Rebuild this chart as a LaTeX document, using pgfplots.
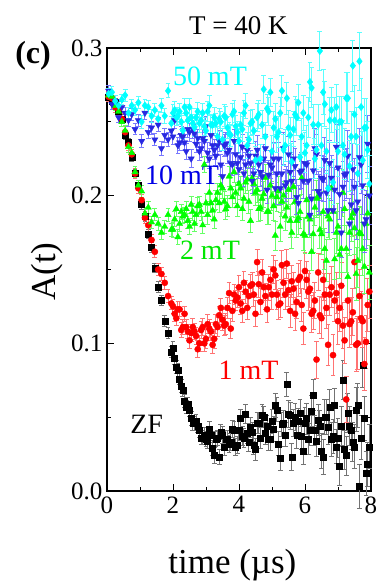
\documentclass[border=0pt]{standalone}
\usepackage{pgfplots}
\pgfplotsset{compat=1.18}
\usepackage{pgfplotstable}
\usepackage{fontspec}
\setmainfont{Liberation Serif}

\definecolor{cblue}{RGB}{40,40,225}
\definecolor{cbluebar}{RGB}{120,120,255}
\definecolor{cgreen}{RGB}{0,255,0}
\definecolor{cgreentext}{RGB}{0,230,0}
\definecolor{ccyan}{RGB}{0,255,255}

\pgfplotsset{
  ebar/.style={error bars/.cd, y dir=both, y explicit,
    error bar style={line width=1pt, #1},
    error mark options={rotate=90, mark size=2.4pt, line width=1pt, #1}},
  zfs/.style={only marks, mark=square*, mark size=3pt, color=black, ebar=black!55},
  r1s/.style={only marks, mark=*, mark size=3.1pt, color=red, ebar=red!55},
  g2s/.style={only marks, mark=triangle*, mark size=3.6pt, color=cgreen, ebar=cgreen!60},
  b10s/.style={only marks, mark=triangle*, mark options={rotate=180}, mark size=3.6pt, color=cblue, ebar=cbluebar},
  c50s/.style={only marks, mark=diamond*, mark size=3.7pt, color=ccyan, ebar=ccyan!65},
}

\pgfplotstableread{
t zf ezf r1 er1 g2 eg2 b10 eb10 c50 ec50
0.05 0.267 .0028 0.267 .0034 0.268 .0034 0.271 .0036 0.269 .0036
0.15 0.264 .0028 0.266 .0034 0.267 .0034 0.262 .0036 0.270 .0036
0.25 0.263 .0028 0.260 .0034 0.261 .0034 0.264 .0036 0.264 .0036
0.35 0.257 .0028 0.258 .0034 0.257 .0034 0.253 .0036 0.261 .0036
0.45 0.252 .0028 0.252 .0034 0.250 .0034 0.260 .0036 0.265 .0036
0.55 0.241 .0030 0.243 .0036 0.244 .0036 0.256 .0039 0.268 .0039
0.65 0.236 .0030 0.234 .0036 0.233 .0036 0.251 .0039 0.256 .0039
0.75 0.226 .0030 0.228 .0036 0.229 .0036 0.255 .0039 0.261 .0039
0.85 0.215 .0030 0.215 .0036 0.216 .0036 0.245 .0039 0.258 .0039
0.95 0.207 .0030 0.205 .0036 0.207 .0036 0.251 .0039 0.263 .0039
1.05 0.194 .0033 0.197 .0040 0.203 .0040 0.237 .0043 0.250 .0043
1.15 0.186 .0033 0.185 .0040 0.188 .0040 0.256 .0043 0.261 .0043
1.25 0.174 .0033 0.180 .0040 0.192 .0040 0.243 .0043 0.260 .0043
1.35 0.165 .0033 0.170 .0040 0.182 .0040 0.246 .0043 0.254 .0043
1.45 0.151 .0033 0.162 .0040 0.187 .0040 0.238 .0043 0.258 .0043
1.55 0.138 .0037 0.150 .0044 0.181 .0044 0.248 .0048 0.252 .0048
1.65 0.129 .0037 0.147 .0044 0.175 .0044 0.232 .0048 0.261 .0048
1.75 0.115 .0037 0.141 .0044 0.179 .0044 0.241 .0048 0.254 .0048
1.85 0.107 .0037 0.132 .0044 0.187 .0044 0.238 .0048 0.271 .0048
1.95 0.094 .0037 0.127 .0044 0.177 .0044 0.244 .0048 0.249 .0048
2.05 0.090 .0042 0.120 .0050 0.184 .0050 0.251 .0055 0.258 .0055
2.15 0.082 .0042 0.123 .0050 0.172 .0050 0.234 .0055 0.254 .0055
2.25 0.071 .0042 0.109 .0050 0.189 .0050 0.241 .0055 0.250 .0055
2.35 0.061 .0042 0.120 .0050 0.187 .0050 0.236 .0055 0.260 .0055
2.45 0.059 .0042 0.108 .0050 0.183 .0050 0.245 .0055 0.251 .0055
2.55 0.049 .0047 0.107 .0056 0.194 .0056 0.225 .0061 0.253 .0061
2.65 0.046 .0047 0.108 .0056 0.181 .0056 0.242 .0061 0.246 .0061
2.75 0.044 .0047 0.096 .0056 0.193 .0056 0.239 .0061 0.257 .0061
2.85 0.036 .0047 0.109 .0056 0.189 .0056 0.232 .0061 0.251 .0061
2.95 0.038 .0047 0.100 .0056 0.221 .0056 0.237 .0061 0.247 .0061
3.05 0.034 .0052 0.113 .0062 0.187 .0062 0.229 .0068 0.257 .0068
3.15 0.038 .0052 0.108 .0062 0.195 .0062 0.241 .0068 0.248 .0068
3.25 0.024 .0052 0.103 .0062 0.184 .0062 0.231 .0068 0.253 .0068
3.35 0.036 .0052 0.111 .0062 0.202 .0062 0.234 .0068 0.240 .0068
3.45 0.040 .0052 0.124 .0062 0.207 .0062 0.221 .0068 0.250 .0068
3.55 0.030 .0058 0.112 .0070 0.196 .0070 0.234 .0075 0.254 .0075
3.65 0.035 .0058 0.124 .0070 0.193 .0070 0.229 .0075 0.246 .0075
3.75 0.033 .0058 0.110 .0070 0.205 .0070 0.222 .0075 0.241 .0075
3.85 0.041 .0058 0.133 .0070 0.216 .0070 0.237 .0075 0.257 .0075
3.95 0.031 .0058 0.131 .0070 0.193 .0070 0.222 .0075 0.243 .0075
4.05 0.049 .0065 0.127 .0078 0.205 .0078 0.226 .0085 0.248 .0085
4.15 0.036 .0065 0.141 .0078 0.198 .0078 0.215 .0085 0.256 .0085
4.25 0.039 .0065 0.124 .0078 0.211 .0078 0.231 .0085 0.234 .0085
4.35 0.043 .0065 0.139 .0078 0.183 .0078 0.222 .0085 0.249 .0085
4.45 0.031 .0065 0.133 .0078 0.208 .0078 0.215 .0085 0.244 .0085
4.55 0.046 .0073 0.155 .0088 0.204 .0088 0.231 .0095 0.253 .0095
4.65 0.036 .0073 0.128 .0088 0.192 .0088 0.216 .0095 0.225 .0095
4.75 0.050 .0073 0.138 .0088 0.201 .0088 0.225 .0095 0.272 .0095
4.85 0.044 .0073 0.123 .0088 0.189 .0088 0.204 .0095 0.259 .0095
4.95 0.035 .0073 0.143 .0088 0.207 .0088 0.221 .0095 0.270 .0095
5.05 0.042 .0082 0.150 .0098 0.193 .0098 0.225 .0107 0.246 .0107
5.15 0.055 .0082 0.133 .0098 0.199 .0098 0.215 .0107 0.240 .0107
5.25 0.022 .0082 0.127 .0098 0.179 .0098 0.205 .0107 0.256 .0107
5.35 0.046 .0082 0.141 .0098 0.200 .0098 0.232 .0107 0.231 .0107
5.45 0.072 .0082 0.154 .0098 0.192 .0098 0.209 .0107 0.266 .0107
5.55 0.051 .0092 0.122 .0110 0.183 .0110 0.216 .0120 0.241 .0120
5.65 0.046 .0092 0.137 .0110 0.206 .0110 0.225 .0120 0.245 .0120
5.75 0.038 .0092 0.128 .0110 0.183 .0110 0.199 .0120 0.253 .0120
5.85 0.053 .0092 0.145 .0110 0.189 .0110 0.216 .0120 0.226 .0120
5.95 0.027 .0092 0.110 .0110 0.174 .0110 0.210 .0120 0.256 .0120
6.05 0.049 .0104 0.143 .0125 0.197 .0125 0.221 .0135 0.234 .0135
6.15 0.041 .0104 0.137 .0125 0.184 .0125 0.187 .0135 0.277 .0135
6.25 0.065 .0104 0.122 .0125 0.174 .0125 0.217 .0135 0.248 .0135
6.35 0.034 .0104 0.089 .0125 0.198 .0125 0.228 .0135 0.231 .0135
6.45 0.044 .0104 0.119 .0125 0.177 .0125 0.201 .0135 0.298 .0135
6.55 0.023 .0117 0.143 .0140 0.189 .0140 0.211 .0152 0.270 .0152
6.65 0.050 .0117 0.124 .0140 0.156 .0140 0.202 .0152 0.230 .0152
6.75 0.057 .0117 0.133 .0140 0.184 .0140 0.222 .0152 0.251 .0152
6.85 0.037 .0117 0.092 .0140 0.189 .0140 0.190 .0152 0.209 .0152
6.95 0.030 .0117 0.134 .0140 0.175 .0140 0.233 .0152 0.260 .0152
7.05 0.017 .0132 0.124 .0158 0.160 .0158 0.201 .0172 0.250 .0172
7.15 0.075 .0132 0.112 .0158 0.202 .0158 0.206 .0172 0.234 .0172
7.25 0.024 .0132 0.062 .0158 0.164 .0158 0.215 .0172 0.266 .0172
7.35 0.044 .0132 0.113 .0158 0.175 .0158 0.181 .0172 0.220 .0172
7.45 0.033 .0132 0.121 .0158 0.188 .0158 0.218 .0172 0.288 .0172
7.55 0.055 .0150 0.099 .0180 0.147 .0180 0.190 .0195 0.240 .0195
7.65 0.003 .0150 0.132 .0180 0.175 .0180 0.226 .0195 0.291 .0195
7.75 0.085 .0150 0.115 .0180 0.164 .0180 0.207 .0195 0.224 .0195
7.85 0.012 .0150 0.101 .0180 0.181 .0180 0.184 .0195 0.246 .0195
7.95 0.030 .0150 0.135 .0180 0.148 .0180 0.200 .0195 0.208 .0195
}\data

\pgfplotstableread{
t zf ezf r1 er1 g2 eg2 b10 eb10 c50 ec50
2.0 0.097 .0042 0.125 .0050 0.177 .0050 0.240 .0055 0.256 .0055
2.1 0.084 .0042 0.117 .0050 0.191 .0050 0.253 .0055 0.253 .0055
2.2 0.076 .0042 0.123 .0050 0.181 .0050 0.236 .0055 0.257 .0055
2.3 0.068 .0042 0.111 .0050 0.186 .0050 0.240 .0055 0.244 .0055
2.4 0.057 .0042 0.111 .0050 0.191 .0050 0.230 .0055 0.256 .0055
2.5 0.055 .0047 0.102 .0056 0.179 .0056 0.243 .0061 0.260 .0061
2.6 0.046 .0047 0.111 .0056 0.189 .0056 0.245 .0061 0.249 .0061
2.7 0.047 .0047 0.105 .0056 0.187 .0056 0.235 .0061 0.253 .0061
2.8 0.041 .0047 0.100 .0056 0.194 .0056 0.230 .0061 0.249 .0061
2.9 0.036 .0047 0.111 .0056 0.180 .0056 0.239 .0061 0.256 .0061
3.0 0.035 .0052 0.103 .0062 0.195 .0062 0.247 .0068 0.244 .0068
3.1 0.042 .0052 0.110 .0062 0.202 .0062 0.225 .0068 0.261 .0068
3.2 0.029 .0052 0.099 .0062 0.190 .0062 0.234 .0068 0.248 .0068
3.3 0.035 .0052 0.113 .0062 0.197 .0062 0.227 .0068 0.249 .0068
3.4 0.023 .0052 0.119 .0062 0.195 .0062 0.237 .0068 0.252 .0068
3.5 0.038 .0058 0.116 .0070 0.205 .0070 0.213 .0075 0.238 .0075
3.6 0.035 .0058 0.113 .0070 0.191 .0070 0.235 .0075 0.253 .0075
3.7 0.032 .0058 0.134 .0070 0.213 .0070 0.231 .0075 0.242 .0075
3.8 0.042 .0058 0.122 .0070 0.199 .0070 0.221 .0075 0.255 .0075
3.9 0.030 .0058 0.129 .0070 0.202 .0070 0.228 .0075 0.247 .0075
4.0 0.041 .0065 0.138 .0078 0.208 .0078 0.218 .0085 0.237 .0085
4.1 0.037 .0065 0.122 .0078 0.191 .0078 0.233 .0085 0.245 .0085
4.2 0.052 .0065 0.135 .0078 0.209 .0078 0.221 .0085 0.261 .0085
4.3 0.033 .0065 0.132 .0078 0.196 .0078 0.227 .0085 0.238 .0085
4.4 0.040 .0065 0.140 .0078 0.212 .0078 0.210 .0085 0.250 .0085
4.5 0.028 .0073 0.120 .0088 0.202 .0088 0.227 .0095 0.224 .0095
4.6 0.046 .0073 0.140 .0088 0.191 .0088 0.221 .0095 0.255 .0095
4.7 0.051 .0073 0.148 .0088 0.198 .0088 0.213 .0095 0.248 .0095
4.8 0.039 .0073 0.132 .0088 0.212 .0088 0.232 .0095 0.240 .0095
4.9 0.035 .0073 0.138 .0088 0.189 .0088 0.214 .0095 0.257 .0095
5.0 0.047 .0082 0.133 .0098 0.200 .0098 0.219 .0107 0.230 .0107
5.1 0.058 .0082 0.146 .0098 0.173 .0098 0.205 .0107 0.252 .0107
5.2 0.032 .0082 0.126 .0098 0.203 .0098 0.225 .0107 0.243 .0107
5.3 0.045 .0082 0.153 .0098 0.196 .0098 0.215 .0107 0.271 .0107
5.4 0.038 .0082 0.133 .0098 0.186 .0098 0.207 .0107 0.234 .0107
5.5 0.052 .0092 0.136 .0110 0.204 .0110 0.228 .0120 0.246 .0120
5.6 0.023 .0092 0.142 .0110 0.175 .0110 0.210 .0120 0.223 .0120
5.7 0.050 .0092 0.120 .0110 0.196 .0110 0.220 .0120 0.255 .0120
5.8 0.047 .0092 0.143 .0110 0.185 .0110 0.195 .0120 0.263 .0120
5.9 0.037 .0092 0.126 .0110 0.212 .0110 0.217 .0120 0.240 .0120
6.0 0.046 .0104 0.149 .0125 0.173 .0125 0.222 .0135 0.229 .0135
6.1 0.035 .0104 0.135 .0125 0.186 .0125 0.210 .0135 0.253 .0135
6.2 0.054 .0104 0.120 .0125 0.162 .0125 0.198 .0135 0.273 .0135
6.3 0.041 .0104 0.129 .0125 0.192 .0125 0.232 .0135 0.225 .0135
6.4 0.048 .0104 0.148 .0125 0.199 .0125 0.203 .0135 0.248 .0135
6.5 0.027 .0117 0.117 .0140 0.174 .0140 0.212 .0152 0.234 .0152
6.6 0.050 .0117 0.133 .0140 0.164 .0140 0.224 .0152 0.262 .0152
6.7 0.043 .0117 0.099 .0140 0.186 .0140 0.190 .0152 0.205 .0152
6.8 0.035 .0117 0.138 .0140 0.205 .0140 0.212 .0152 0.258 .0152
6.9 0.058 .0117 0.129 .0140 0.157 .0140 0.204 .0152 0.251 .0152
7.0 0.036 .0132 0.115 .0158 0.179 .0158 0.219 .0172 0.230 .0172
7.1 0.044 .0132 0.139 .0158 0.164 .0158 0.175 .0172 0.250 .0172
7.2 0.028 .0132 0.102 .0158 0.191 .0158 0.214 .0172 0.228 .0172
7.3 0.053 .0132 0.129 .0158 0.145 .0158 0.227 .0172 0.266 .0172
7.4 0.041 .0132 0.115 .0158 0.185 .0158 0.194 .0172 0.240 .0172
7.5 0.030 .0150 0.155 .0180 0.178 .0180 0.206 .0195 0.255 .0195
7.6 0.058 .0150 0.100 .0180 0.156 .0180 0.196 .0195 0.215 .0195
7.7 0.036 .0150 0.117 .0180 0.174 .0180 0.221 .0195 0.260 .0195
7.8 0.049 .0150 0.086 .0180 0.152 .0180 0.181 .0195 0.246 .0195
7.9 0.018 .0150 0.126 .0180 0.188 .0180 0.235 .0195 0.231 .0195
}\dataB

\begin{document}
\begin{tikzpicture}
\useasboundingbox (-107pt,-92pt) rectangle (271pt,491pt);
\begin{axis}[
  at={(0pt,0pt)}, anchor=south west,
  scale only axis, width=264pt, height=443pt,
  xmin=0, xmax=8, ymin=0, ymax=0.3,
  xtick={0,2,4,6,8}, ytick={0,0.1,0.2,0.3},
  minor x tick num=1, minor y tick num=1,
  tick align=inside,
  major tick length=7pt, minor tick length=4pt,
  every tick/.style={black, line width=0.9pt},
  axis line style={line width=1.2pt},
  scaled y ticks=false,
  /pgf/number format/assume math mode=true,
  ticklabel style={font=\fontsize{25}{30}\selectfont},
  xticklabel style={yshift=-2pt},
  yticklabel style={xshift=-1pt, /pgf/number format/fixed,/pgf/number format/fixed zerofill,/pgf/number format/precision=1},
  clip=false,
]
\addplot[zfs] table[x=t, y=zf, y error=ezf] {\data};
\addplot[zfs] table[x=t, y=zf, y error=ezf] {\dataB};
\addplot[r1s] table[x=t, y=r1, y error=er1] {\data};
\addplot[r1s] table[x=t, y=r1, y error=er1] {\dataB};
\addplot[g2s] table[x=t, y=g2, y error=eg2] {\data};
\addplot[g2s] table[x=t, y=g2, y error=eg2] {\dataB};
\addplot[b10s] table[x=t, y=b10, y error=eb10] {\data};
\addplot[b10s] table[x=t, y=b10, y error=eb10] {\dataB};
\addplot[c50s] table[x=t, y=c50, y error=ec50] {\data};
\addplot[c50s] table[x=t, y=c50, y error=ec50] {\dataB};

\node[font=\fontsize{27}{32}\selectfont] at (axis description cs:0.498,1.050) {T = 40 K};
\node[font=\fontsize{32}{38}\selectfont\bfseries] at (axis description cs:-0.28,0.982) {(c)};
\node[rotate=90, font=\fontsize{35}{42}\selectfont] at (axis description cs:-0.227,0.495) {A(t)};
\node[font=\fontsize{35}{42}\selectfont] at (axis description cs:0.475,-0.167) {time (µs)};
\node[font=\fontsize{28}{34}\selectfont, text=ccyan] at (axis description cs:0.39,0.935) {50 mT};
\node[font=\fontsize{28}{34}\selectfont, text=blue!90!black] at (axis description cs:0.284,0.713) {10 mT};
\node[font=\fontsize{28}{34}\selectfont, text=cgreentext] at (axis description cs:0.39,0.544) {2 mT};
\node[font=\fontsize{28}{34}\selectfont, text=red] at (axis description cs:0.536,0.273) {1 mT};
\node[font=\fontsize{28}{34}\selectfont, text=black] at (axis description cs:0.15,0.151) {ZF};
\end{axis}
\end{tikzpicture}
\end{document}
